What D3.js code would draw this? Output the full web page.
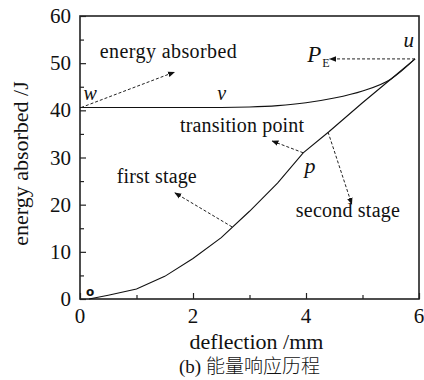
<!DOCTYPE html>
<html><head><meta charset="utf-8"><script src="https://cdn.jsdelivr.net/npm/d3@7"></script></head>
<body><script>
// data
var xTicks = [0, 2, 4, 6];
var xMinor = [1, 3, 5];
var yTicks = [0, 10, 20, 30, 40, 50, 60];
var yMinor = [5, 15, 25, 35, 45, 55];

// upper curve  w -> v -> u
var upperX = [0, 1, 2, 2.5, 3, 3.5, 4, 4.5, 5, 5.5, 5.93];
var upperY = [40.6, 40.6, 40.6, 40.6, 40.7, 41.0, 41.6, 42.6, 44.1, 46.6, 50.9];

// lower curve  0 -> p -> u
var lowerX = [0.16, 0.5, 1, 1.5, 2, 2.5, 3, 3.5, 3.95, 4.4, 5, 5.5, 5.93];
var lowerY = [0, 0.8, 2.1, 4.8, 8.6, 13, 18.6, 24.6, 31, 35.4, 41.6, 46.6, 50.9];

var SERIF = "'Times New Roman'";
var plotLeft = 80, plotRight = 419, plotTop = 16, plotBottom = 299;

d3.select('body').style('margin', '0px');
var svg = d3.select('body').append('svg').attr('width', 424).attr('height', 380);

svg.append('defs').append('marker')
  .attr('id', 'head')
  .attr('viewBox', '0 0 10 10')
  .attr('refX', 9).attr('refY', 5)
  .attr('markerWidth', 7).attr('markerHeight', 7)
  .attr('markerUnits', 'userSpaceOnUse')
  .attr('orient', 'auto')
  .append('path')
  .attr('d', 'M0,1L10,5L0,9Z')
  .attr('fill', '#111');

var x = d3.scaleLinear().domain([0, 6]).range([plotLeft, plotRight]);
var y = d3.scaleLinear().domain([0, 60]).range([plotBottom, plotTop]);

// frame
svg.append('rect')
  .attr('x', plotLeft).attr('y', plotTop)
  .attr('width', plotRight - plotLeft).attr('height', plotBottom - plotTop)
  .attr('fill', 'none')
  .attr('stroke', '#222')
  .attr('stroke-width', 1.6);

// ticks pointing inward, labels drawn as plain text below
var gx = svg.append('g').attr('transform', 'translate(0,' + plotBottom + ')');
gx.call(d3.axisBottom(x).tickValues(xTicks).tickSize(-6).tickFormat(''));
gx.call(function (g) { g.select('.domain').remove(); });
var gxm = svg.append('g').attr('transform', 'translate(0,' + plotBottom + ')');
gxm.call(d3.axisBottom(x).tickValues(xMinor).tickSize(-4).tickFormat(''));
gxm.call(function (g) { g.select('.domain').remove(); });

var gy = svg.append('g').attr('transform', 'translate(' + plotLeft + ',0)');
gy.call(d3.axisLeft(y).tickValues(yTicks).tickSize(-6).tickFormat(''));
gy.call(function (g) { g.select('.domain').remove(); });
var gym = svg.append('g').attr('transform', 'translate(' + plotLeft + ',0)');
gym.call(d3.axisLeft(y).tickValues(yMinor).tickSize(-4).tickFormat(''));
gym.call(function (g) { g.select('.domain').remove(); });

svg.selectAll('.tick line').attr('stroke', '#222').attr('stroke-width', 1.2);
svg.selectAll('.tick text').remove();

svg.selectAll('.xlab').data(xTicks).enter().append('text')
  .attr('class', 'xlab')
  .attr('x', function (d) { return x(d); })
  .attr('y', plotBottom + 24)
  .attr('text-anchor', 'middle')
  .attr('font-size', 21)
  .attr('fill', '#111')
  .attr('font-family', SERIF)
  .style('font-family', SERIF)
  .text(function (d) { return d; });

svg.selectAll('.ylab').data(yTicks).enter().append('text')
  .attr('class', 'ylab')
  .attr('x', plotLeft - 9)
  .attr('y', function (d) { return y(d) + 7; })
  .attr('text-anchor', 'end')
  .attr('font-size', 21)
  .attr('fill', '#111')
  .attr('font-family', SERIF)
  .style('font-family', SERIF)
  .text(function (d) { return d; });

// curves
var line = d3.line()
  .x(function (d) { return x(d[0]); })
  .y(function (d) { return y(d[1]); })
  .curve(d3.curveMonotoneX);

svg.append('path')
  .datum(d3.zip(upperX, upperY))
  .attr('d', line)
  .attr('fill', 'none')
  .attr('stroke', '#111')
  .attr('stroke-width', 1.1);

svg.append('path')
  .datum(d3.zip(lowerX, lowerY))
  .attr('d', line.curve(d3.curveLinear))
  .attr('fill', 'none')
  .attr('stroke', '#111')
  .attr('stroke-width', 1.1);

// annotation arrows (data units)
var arrows = [
  [[0.02, 40.6], [1.67, 48.1]],
  [[5.93, 50.9], [4.42, 50.9]],
  [[3.95, 31], [3.4, 33.5]],
  [[2.69, 15.3], [1.68, 22.5]],
  [[4.39, 35.4], [4.81, 20.1]]
];
svg.selectAll('.arrow')
  .data(arrows)
  .enter().append('line')
  .attr('class', 'arrow')
  .attr('x1', function (d) { return x(d[0][0]); })
  .attr('y1', function (d) { return y(d[0][1]); })
  .attr('x2', function (d) { return x(d[1][0]); })
  .attr('y2', function (d) { return y(d[1][1]); })
  .attr('stroke', '#222')
  .attr('stroke-width', 1)
  .attr('stroke-dasharray', '3,2')
  .attr('marker-end', 'url(#head)');

function label(tx, px, py, size, italic, anchor) {
  return svg.append('text')
    .attr('x', px)
    .attr('y', py)
    .attr('font-size', size)
    .attr('font-style', italic ? 'italic' : null)
    .attr('text-anchor', anchor || 'start')
    .attr('fill', '#111')
    .attr('font-family', SERIF)
    .style('font-family', SERIF)
    .text(tx);
}

label('energy absorbed', x(0.35), y(51.1), 20).attr('textLength', 137);
label('transition point', x(1.77), y(35.4), 20).attr('textLength', 124);
label('first stage', x(0.65), y(24.6), 20).attr('textLength', 80);
label('second stage', x(3.82), y(17.4), 20).attr('textLength', 104);

label('w', x(0.18), y(42.2), 20, true, 'middle');
label('v', x(2.51), y(42.2), 20, true, 'middle');
label('u', x(5.82), y(53.4), 21, true, 'middle');
label('p', x(4.07), y(26.7), 22, true, 'middle');

var pe = label('P', x(4.02), y(50.2), 23, true);
pe.append('tspan')
  .attr('font-style', 'normal')
  .attr('font-size', 12)
  .attr('dx', 1)
  .attr('dy', 5)
  .text('E');

svg.append('text')
  .attr('x', x(0.18))
  .attr('y', y(1.5) + 4)
  .attr('text-anchor', 'middle')
  .attr('font-weight', 'bold')
  .attr('font-size', 12)
  .attr('fill', '#111')
  .style('font-family', "'DejaVu Sans'")
  .text('o');

// axis titles
label('deflection /mm', (plotLeft + plotRight) / 2 + 7, 349, 22, false, 'middle');
label('energy absorbed /J', 0, 0, 22, false, 'middle')
  .attr('transform', 'translate(28,' + ((plotTop + plotBottom) / 2 + 6) + ') rotate(-90)');

var cap = label('', (plotLeft + plotRight) / 2, 373, 19, false, 'middle');
cap.append('tspan').text('(b) ');
cap.append('tspan')
  .style('font-family', "'Noto Sans CJK SC'")
  .attr('font-weight', 300)
  .text('能量响应历程');
</script></body></html>
